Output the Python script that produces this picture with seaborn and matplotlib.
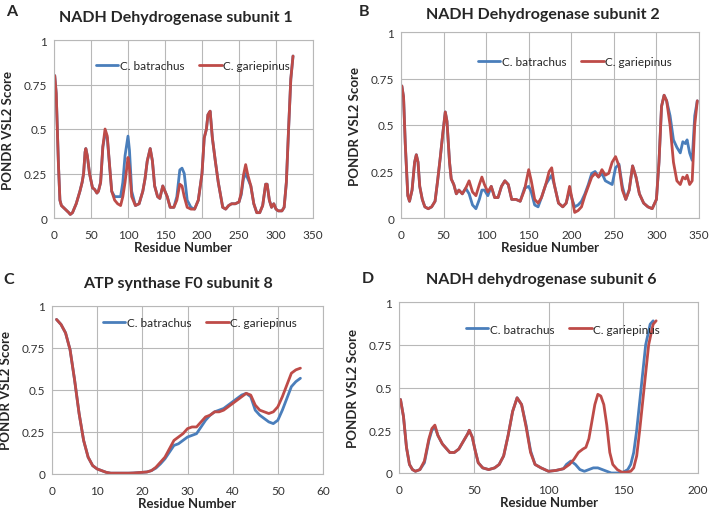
import numpy as np
import pandas as pd
import matplotlib
matplotlib.use("Agg")
import matplotlib.pyplot as plt
import seaborn as sns

# ---------------- data ----------------
series_names = ["C. batrachus", "C. gariepinus"]

# Panel A: NADH Dehydrogenase subunit 1
a_x = [1, 3, 6, 8, 10, 15, 20, 22, 25, 30, 35, 38, 40, 42, 43, 45, 48, 52, 55, 58, 60, 63, 66, 69, 72, 75,
       78, 82, 86, 90, 93, 96, 100, 102, 105, 110, 115, 120, 123, 126, 130, 133, 136, 140, 143, 147, 150, 153,
       157, 162, 166, 170, 173, 176, 180, 185, 190, 195, 200, 203, 206, 208, 211, 214, 218, 222, 228, 232, 236,
       240, 245, 250, 253, 256, 259, 262, 266, 270, 274, 278, 282, 286, 288, 291, 294, 297, 300, 303, 308, 311,
       314, 317, 320, 323]
a_gar = [0.80, 0.70, 0.30, 0.10, 0.07, 0.05, 0.03, 0.02, 0.03, 0.08, 0.15, 0.20, 0.25, 0.37, 0.39, 0.35, 0.25,
         0.17, 0.16, 0.14, 0.15, 0.20, 0.40, 0.50, 0.46, 0.30, 0.15, 0.10, 0.08, 0.07, 0.12, 0.20, 0.34, 0.28,
         0.12, 0.07, 0.08, 0.15, 0.22, 0.32, 0.39, 0.32, 0.18, 0.12, 0.11, 0.18, 0.15, 0.12, 0.06, 0.06, 0.10,
         0.19, 0.18, 0.12, 0.06, 0.05, 0.05, 0.10, 0.25, 0.45, 0.50, 0.58, 0.60, 0.45, 0.32, 0.20, 0.06, 0.05,
         0.07, 0.08, 0.08, 0.09, 0.14, 0.24, 0.30, 0.24, 0.18, 0.08, 0.03, 0.03, 0.07, 0.19, 0.19, 0.10, 0.06,
         0.08, 0.05, 0.04, 0.04, 0.06, 0.20, 0.50, 0.78, 0.91]
a_bat = [0.80, 0.70, 0.30, 0.10, 0.07, 0.05, 0.03, 0.02, 0.03, 0.08, 0.15, 0.20, 0.25, 0.37, 0.39, 0.35, 0.25,
         0.17, 0.16, 0.14, 0.15, 0.20, 0.40, 0.47, 0.45, 0.30, 0.15, 0.12, 0.12, 0.12, 0.20, 0.35, 0.46, 0.38,
         0.15, 0.07, 0.08, 0.15, 0.22, 0.32, 0.39, 0.32, 0.18, 0.12, 0.11, 0.18, 0.15, 0.12, 0.06, 0.06, 0.12,
         0.27, 0.28, 0.25, 0.10, 0.06, 0.05, 0.10, 0.25, 0.45, 0.50, 0.58, 0.60, 0.45, 0.32, 0.20, 0.06, 0.05,
         0.07, 0.08, 0.08, 0.09, 0.13, 0.22, 0.25, 0.22, 0.18, 0.08, 0.03, 0.03, 0.07, 0.19, 0.19, 0.10, 0.06,
         0.08, 0.05, 0.04, 0.04, 0.06, 0.20, 0.50, 0.78, 0.91]

# Panel B: NADH Dehydrogenase subunit 2
b_x = [1, 3, 5, 8, 10, 13, 16, 18, 20, 22, 25, 28, 32, 36, 40, 43, 46, 49, 52, 54, 57, 59, 62, 65, 68, 72,
       76, 80, 84, 88, 92, 95, 98, 102, 106, 110, 114, 118, 122, 126, 130, 135, 140, 145, 150, 153, 157, 161,
       165, 170, 174, 177, 180, 185, 190, 194, 198, 201, 204, 208, 212, 216, 220, 224, 228, 232, 236, 240, 244,
       248, 252, 256, 260, 264, 268, 272, 276, 280, 285, 290, 295, 300, 303, 306, 309, 312, 316, 320, 324, 328,
       331, 334, 336, 339, 342, 345, 348]
b_gar = [0.71, 0.65, 0.40, 0.12, 0.09, 0.15, 0.30, 0.34, 0.30, 0.17, 0.10, 0.06, 0.05, 0.06, 0.09, 0.20, 0.32,
         0.45, 0.57, 0.52, 0.30, 0.21, 0.18, 0.13, 0.15, 0.13, 0.16, 0.20, 0.14, 0.12, 0.18, 0.22, 0.18, 0.14,
         0.17, 0.11, 0.11, 0.17, 0.20, 0.18, 0.10, 0.10, 0.09, 0.15, 0.26, 0.20, 0.10, 0.08, 0.11, 0.18, 0.25,
         0.27, 0.18, 0.08, 0.06, 0.08, 0.17, 0.10, 0.03, 0.04, 0.06, 0.12, 0.17, 0.22, 0.24, 0.22, 0.26, 0.23,
         0.24, 0.30, 0.33, 0.28, 0.15, 0.10, 0.15, 0.28, 0.22, 0.13, 0.08, 0.06, 0.05, 0.10, 0.30, 0.60, 0.66,
         0.63, 0.50, 0.30, 0.20, 0.18, 0.22, 0.21, 0.23, 0.18, 0.20, 0.50, 0.63]
b_bat = [0.71, 0.65, 0.40, 0.12, 0.09, 0.15, 0.30, 0.34, 0.30, 0.17, 0.10, 0.06, 0.05, 0.06, 0.09, 0.20, 0.32,
         0.45, 0.57, 0.52, 0.30, 0.21, 0.18, 0.13, 0.15, 0.13, 0.16, 0.13, 0.07, 0.05, 0.10, 0.15, 0.15, 0.12,
         0.17, 0.11, 0.11, 0.17, 0.20, 0.18, 0.10, 0.10, 0.09, 0.16, 0.17, 0.14, 0.07, 0.06, 0.11, 0.18, 0.21,
         0.23, 0.18, 0.08, 0.06, 0.08, 0.15, 0.10, 0.06, 0.07, 0.09, 0.13, 0.18, 0.24, 0.25, 0.22, 0.24, 0.20,
         0.19, 0.18, 0.27, 0.29, 0.17, 0.10, 0.15, 0.28, 0.22, 0.13, 0.08, 0.06, 0.05, 0.10, 0.30, 0.60, 0.66,
         0.63, 0.55, 0.42, 0.38, 0.35, 0.41, 0.40, 0.42, 0.35, 0.31, 0.55, 0.63]

# Panel C: ATP synthase F0 subunit 8
c_x = list(range(1, 56))
c_gar = [0.92, 0.89, 0.84, 0.74, 0.56, 0.36, 0.20, 0.10, 0.05, 0.03, 0.02, 0.01, 0.005, 0.005, 0.005, 0.005,
         0.005, 0.006, 0.008, 0.01, 0.012, 0.02, 0.04, 0.07, 0.10, 0.15, 0.20, 0.22, 0.24, 0.27, 0.28, 0.28,
         0.31, 0.34, 0.35, 0.37, 0.37, 0.38, 0.40, 0.42, 0.44, 0.46, 0.48, 0.47, 0.41, 0.38, 0.37, 0.36, 0.37,
         0.40, 0.46, 0.53, 0.60, 0.62, 0.63]
c_bat = [0.92, 0.89, 0.84, 0.74, 0.56, 0.36, 0.20, 0.10, 0.05, 0.03, 0.02, 0.01, 0.005, 0.005, 0.005, 0.005,
         0.005, 0.006, 0.008, 0.01, 0.012, 0.02, 0.035, 0.06, 0.09, 0.13, 0.17, 0.18, 0.20, 0.22, 0.23, 0.24,
         0.28, 0.32, 0.35, 0.37, 0.38, 0.39, 0.41, 0.43, 0.45, 0.47, 0.48, 0.46, 0.38, 0.35, 0.33, 0.31, 0.30,
         0.32, 0.38, 0.45, 0.52, 0.55, 0.57]

# Panel D: NADH dehydrogenase subunit 6
d_x_gar = [1, 3, 5, 7, 9, 11, 14, 17, 20, 22, 24, 26, 29, 31, 34, 37, 40, 42, 44, 46, 47, 49, 51, 53, 56, 60,
           64, 67, 70, 73, 76, 79, 82, 85, 88, 91, 95, 100, 105, 110, 114, 117, 120, 123, 125, 127, 129, 131,
           133, 135, 137, 139, 141, 143, 146, 149, 152, 155, 157, 159, 161, 164, 167, 170, 172]
d_gar = [0.43, 0.33, 0.15, 0.05, 0.02, 0.01, 0.02, 0.07, 0.20, 0.26, 0.28, 0.22, 0.17, 0.15, 0.12, 0.12, 0.14,
         0.17, 0.20, 0.23, 0.25, 0.21, 0.13, 0.06, 0.03, 0.02, 0.03, 0.05, 0.10, 0.22, 0.36, 0.44, 0.40, 0.27,
         0.12, 0.05, 0.03, 0.01, 0.015, 0.025, 0.05, 0.08, 0.12, 0.14, 0.15, 0.20, 0.30, 0.40, 0.46, 0.45, 0.40,
         0.28, 0.12, 0.05, 0.02, 0.005, 0.005, 0.01, 0.03, 0.10, 0.25, 0.50, 0.75, 0.87, 0.89]
d_x_bat = [1, 3, 5, 7, 9, 11, 14, 17, 20, 22, 24, 26, 29, 31, 34, 37, 40, 42, 44, 46, 47, 49, 51, 53, 56, 60,
           64, 67, 70, 73, 76, 79, 82, 85, 88, 91, 95, 100, 105, 110, 112, 115, 118, 121, 124, 127, 130, 133,
           136, 139, 142, 146, 150, 153, 155, 157, 159, 162, 165, 168, 170]
d_bat = [0.43, 0.33, 0.15, 0.05, 0.02, 0.01, 0.02, 0.06, 0.19, 0.25, 0.27, 0.22, 0.17, 0.15, 0.12, 0.12, 0.14,
         0.17, 0.20, 0.23, 0.25, 0.21, 0.13, 0.06, 0.03, 0.02, 0.03, 0.05, 0.10, 0.22, 0.36, 0.44, 0.40, 0.28,
         0.13, 0.05, 0.03, 0.01, 0.015, 0.025, 0.05, 0.07, 0.05, 0.02, 0.01, 0.02, 0.03, 0.03, 0.02, 0.01, 0.0,
         0.0, 0.005, 0.02, 0.05, 0.12, 0.25, 0.50, 0.75, 0.87, 0.89]

titles = ["NADH Dehydrogenase subunit 1", "NADH Dehydrogenase subunit 2",
          "ATP synthase F0 subunit 8", "NADH dehydrogenase subunit 6"]
panel_letters = ["A", "B", "C", "D"]
x_limits = [350, 350, 60, 200]
x_steps = [50, 50, 10, 50]
y_ticks = [0, 0.25, 0.5, 0.75, 1]
y_tick_labels = ["0", "0.25", "0.5", "0.75", "1"]

# ---------------- style ----------------
sns.set_theme(style="white")
plt.rcParams['font.family'] = ['Lato', 'DejaVu Sans']
palette = {"C. batrachus": "#4a7ebb", "C. gariepinus": "#be4b48"}

fig = plt.figure(figsize=(7.13, 5.10), dpi=100)

# axes rectangles [left, bottom, width, height] in figure fractions
rects = [
    [54/713, 1-219/510, (313-54)/713, (219-41)/510],
    [401/713, 1-219/510, (699-401)/713, (219-33)/510],
    [52/713, 1-475/510, (323-52)/713, (475-307)/510],
    [399/713, 1-474/510, (698-399)/713, (474-303)/510],
]
title_pos = [(176, 18), (543, 15), (178, 284), (541, 280)]
letter_pos = [(12, 12), (364, 12), (9, 280), (368, 279)]
legend_pos = [(90, 67), (472, 63), (97, 324), (460, 330)]

panels = [
    (a_x, a_bat, a_x, a_gar),
    (b_x, b_bat, b_x, b_gar),
    (c_x, c_bat, c_x, c_gar),
    (d_x_bat, d_bat, d_x_gar, d_gar),
]

for i, (xb, yb, xg, yg) in enumerate(panels):
    ax = fig.add_axes(rects[i])
    df = pd.concat([
        pd.DataFrame({"Residue": xb, "Score": yb, "Species": series_names[0]}),
        pd.DataFrame({"Residue": xg, "Score": yg, "Species": series_names[1]}),
    ], ignore_index=True)
    sns.lineplot(data=df, x="Residue", y="Score", hue="Species", palette=palette,
                 linewidth=2.0, ax=ax, sort=False, estimator=None)
    ax.set_xlim(0, x_limits[i])
    ax.set_ylim(0, 1)
    ax.set_xticks(np.arange(0, x_limits[i] + 1, x_steps[i]))
    ax.set_yticks(y_ticks)
    ax.set_yticklabels(y_tick_labels)
    ax.tick_params(axis='y', labelsize=8.5, length=0, pad=5, colors="#333333")
    ax.tick_params(axis='x', labelsize=8.5, length=0, pad=8, colors="#333333")
    ax.grid(True, color="#b8b8b8", linewidth=0.8)
    ax.set_axisbelow(True)
    for s in ax.spines.values():
        s.set_color("#b8b8b8")
        s.set_linewidth(0.8)
    ax.set_xlabel("Residue Number", fontsize=9.5, fontweight="bold", labelpad=1)
    ax.set_ylabel("PONDR VSL2 Score", fontsize=9.5, fontweight="bold", labelpad=7)
    handles, labels = ax.get_legend_handles_labels()
    ax.legend(handles, labels, loc="center left",
              bbox_to_anchor=(legend_pos[i][0]/713, 1-legend_pos[i][1]/510),
              bbox_transform=fig.transFigure, ncol=2, frameon=False, fontsize=8.5,
              handlelength=1.9, handletextpad=0.1, columnspacing=1.3, borderpad=0)
    tx, ty = title_pos[i]
    fig.text(tx/713, 1-ty/510, titles[i], ha="center", va="center",
             fontsize=11.5, fontweight="bold")
    lx, ly = letter_pos[i]
    fig.text(lx/713, 1-ly/510, panel_letters[i], ha="center", va="center",
             fontsize=11.5, fontweight="bold")

fig.savefig("out.png", dpi=100)
